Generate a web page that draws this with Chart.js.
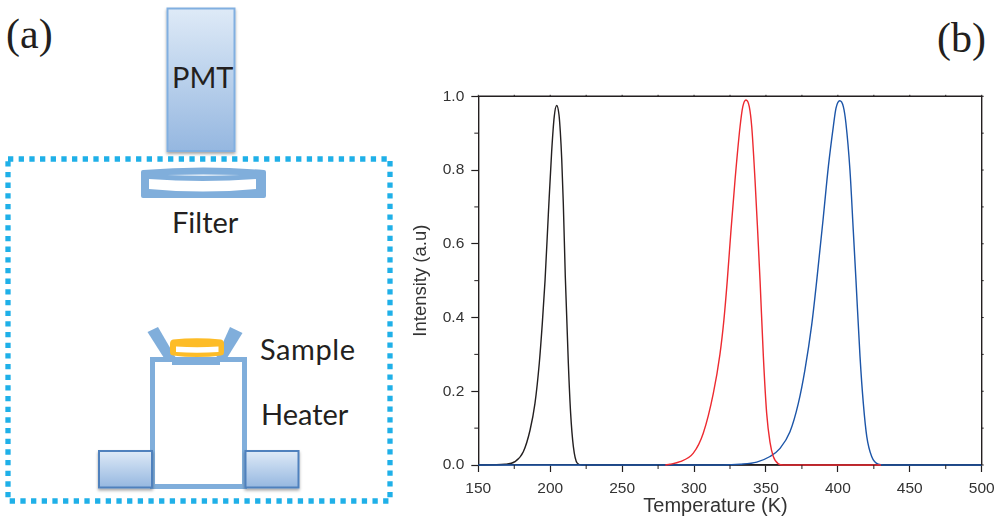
<!DOCTYPE html>
<html>
<head>
<meta charset="utf-8">
<title>PMT setup and glow curves</title>
<script src="https://cdn.jsdelivr.net/npm/chart.js@4"></script>
<style>
    html, body { margin: 0; padding: 0; background: #fff; overflow: hidden; }
    #page { position: relative; width: 999px; height: 519px; }
    #diagram, #chartBox { position: absolute; left: 0; top: 0; width: 999px; height: 519px; }
    #diagram text { fill: #231f20; font-family: Lato, "Open Sans", sans-serif; font-size: 29px; }
    #diagram text.panel { font-family: "Liberation Serif", serif; font-size: 42px; }
</style>
</head>
<body>
<div id="page">
    <svg id="diagram" width="999" height="519" viewBox="0 0 999 519">
        <defs>
            <linearGradient id="pmtFill" x1="0" y1="0" x2="0" y2="1">
                <stop offset="0" stop-color="#deeaf7"/>
                <stop offset="1" stop-color="#95b7e0"/>
            </linearGradient>
            <filter id="softShadow" x="-20%" y="-20%" width="140%" height="140%">
                <feDropShadow dx="0" dy="2" stdDeviation="1.6" flood-color="#000" flood-opacity="0.35"/>
            </filter>
        </defs>

        <text class="panel" x="6" y="48">(a)</text>
        <text class="panel" x="937" y="52">(b)</text>

        <rect x="8" y="159" width="382" height="342" fill="none" stroke="#1fb0e8" stroke-width="5.3" stroke-dasharray="5.3 5.37"/>

        <rect x="167.5" y="8.5" width="67" height="142.5" fill="url(#pmtFill)" stroke="#81afe0" stroke-width="2" filter="url(#softShadow)"/>
        <text x="172" y="88">PMT</text>

        <path d="M143 170 Q203 165 264 170 Q266 170 266 172 V196 Q266 198 264 198 H143 Q141 198 141 196 V172 Q141 170 143 170 Z" fill="#80aedb"/>
        <path d="M149 179 Q203 183 256 179 V189 Q203 194 149 189 Z" fill="#fff"/>
        <path d="M167 175 Q203 174 240 175 Q203 176.5 167 175 Z" fill="#fff"/>
        <text x="172" y="233">Filter</text>

        <polygon points="147.5,332 158,327 176,358 164,358" fill="#80aedb"/>
        <polygon points="230,327 242.5,333 227,358 216,358" fill="#80aedb"/>
        <rect x="152.5" y="359.5" width="92" height="127" fill="#fff" stroke="#80aedb" stroke-width="5"/>
        <rect x="172" y="357" width="48" height="8" fill="#80aedb"/>
        <path d="M173 339.5 Q197 337 221 339.5 Q224 340 224 344 V352 Q224 355 221 355.5 Q197 358.5 173 355.5 Q170 355 170 352 V344 Q170 340 173 339.5 Z" fill="#fdbc27"/>
        <path d="M176 346.5 Q197 348 218.5 346.5 V352 Q197 353.5 176 352 Z" fill="#fff"/>

        <rect x="99" y="451" width="53" height="36.5" fill="url(#pmtFill)" stroke="#4f81bd" stroke-width="2" filter="url(#softShadow)"/>
        <rect x="245.5" y="451" width="53" height="36.5" fill="url(#pmtFill)" stroke="#4f81bd" stroke-width="2" filter="url(#softShadow)"/>

        <text x="260" y="360" textLength="95">Sample</text>
        <text x="261" y="425">Heater</text>
    </svg>
    <div id="chartBox"><canvas id="glowChart" width="999" height="519"></canvas></div>
</div>

<script>
const xTicks = [150, 200, 250, 300, 350, 400, 450, 500];
const xMinorTicks = [175, 225, 275, 325, 375, 425, 475];
const yTicks = [0, 0.2, 0.4, 0.6, 0.8, 1];
const yMinorTicks = [0.1, 0.3, 0.5, 0.7, 0.9];

const blackTemp = [150, 168.6, 175.5, 181.3, 186, 189.4, 192.4, 194.5, 196.4, 198.7, 201, 202.8, 204.5, 206.1, 207, 208, 209.1, 210.5, 212.6, 214.2, 216.1, 218.8, 222, 500];
const blackValues = [0, 0.002, 0.009, 0.036, 0.095, 0.167, 0.276, 0.384, 0.5, 0.68, 0.85, 0.945, 0.975, 0.95, 0.905, 0.83, 0.71, 0.51, 0.276, 0.14, 0.05, 0.005, 0, 0];

const redTemp = [280, 283.3, 290.2, 299.5, 306.4, 313.4, 318, 320.8, 323.1, 325.7, 328.5, 332, 333.9, 336.1, 338.4, 340.1, 342.4, 344.2, 345.9, 348.2, 350.5, 352.8, 355.1, 358.6, 362, 430];
const redValues = [0, 0.002, 0.009, 0.032, 0.086, 0.194, 0.3, 0.395, 0.5, 0.637, 0.773, 0.918, 0.972, 0.99, 0.972, 0.918, 0.773, 0.637, 0.5, 0.294, 0.14, 0.062, 0.023, 0.003, 0, 0];

const blueTemp = [150, 320, 332, 343.6, 352.8, 359.8, 366.7, 372.5, 377.1, 381.8, 385.3, 389.9, 393.4, 396.9, 398.7, 401.3, 403.8, 405.6, 408.4, 410.7, 412.6, 415.4, 417.7, 420.1, 423.5, 428.1, 432, 500];
const blueValues = [0, 0, 0.002, 0.008, 0.023, 0.045, 0.09, 0.167, 0.258, 0.38, 0.5, 0.673, 0.81, 0.92, 0.968, 0.988, 0.972, 0.927, 0.8, 0.637, 0.5, 0.294, 0.167, 0.077, 0.023, 0.002, 0, 0];

const xTitle = "Temperature (K)";
const yTitle = "Intensity (a.u)";

const toPoints = (temps, values) => temps.map((t, i) => ({ x: t, y: values[i] }));

// minor ticks, the plain top and right frame, and the x title (sits left of centre in the original)
const frameTicks = {
    id: "frameTicks",
    afterDatasetsDraw(chart) {
        const { ctx, chartArea, scales } = chart;
        const { left, right, top, bottom } = chartArea;
        ctx.save();
        ctx.strokeStyle = "#231f20";
        ctx.lineWidth = 1.4;
        ctx.beginPath();
        ctx.moveTo(left, top);
        ctx.lineTo(right, top);
        ctx.lineTo(right, bottom);
        ctx.stroke();
        ctx.lineWidth = 1;
        ctx.beginPath();
        xMinorTicks.forEach(v => {
            const x = scales.x.getPixelForValue(v);
            ctx.moveTo(x, bottom);
            ctx.lineTo(x, bottom + 4);
        });
        yMinorTicks.forEach(v => {
            const y = scales.y.getPixelForValue(v);
            ctx.moveTo(left, y);
            ctx.lineTo(left - 4, y);
            ctx.moveTo(right, y);
            ctx.lineTo(right + 2, y);
        });
        yTicks.forEach(v => {
            const y = scales.y.getPixelForValue(v);
            ctx.moveTo(right, y);
            ctx.lineTo(right + 2, y);
        });
        xTicks.concat(xMinorTicks).forEach(v => {
            const x = scales.x.getPixelForValue(v);
            ctx.moveTo(x, top);
            ctx.lineTo(x, top - 1.5);
        });
        ctx.stroke();
        ctx.fillStyle = "#333";
        ctx.font = "20px 'Liberation Sans', Arial, sans-serif";
        ctx.textAlign = "center";
        ctx.textBaseline = "middle";
        ctx.fillText(xTitle, 715.5, 506);
        ctx.restore();
    }
};

const tickFont = { family: "'Liberation Sans', Arial, sans-serif", size: 15.5 };
const titleFont = { family: "'Liberation Sans', Arial, sans-serif", size: 18.5 };

new Chart(document.getElementById("glowChart"), {
    type: "line",
    data: {
        datasets: [
            { label: "Black", data: toPoints(blackTemp, blackValues), borderColor: "#231f20", order: 3 },
            { label: "Blue", data: toPoints(blueTemp, blueValues), borderColor: "#1c55a8", order: 2 },
            { label: "Red", data: toPoints(redTemp, redValues), borderColor: "#ed2a30", order: 1 }
        ]
    },
    options: {
        responsive: false,
        animation: false,
        layout: { padding: { left: 400, top: 96.3, right: 17.3, bottom: 0 } },
        elements: {
            point: { radius: 0 },
            line: { borderWidth: 1.4, cubicInterpolationMode: "monotone" }
        },
        datasets: { line: { clip: false } },
        plugins: {
            legend: { display: false },
            tooltip: { enabled: false }
        },
        scales: {
            x: {
                type: "linear",
                min: 150,
                max: 500,
                afterBuildTicks: scale => { scale.ticks = xTicks.map(value => ({ value })); },
                afterFit: scale => {
                    scale.height = 54;
                    scale.paddingLeft = 0;
                    scale.paddingRight = 0;
                },
                grid: { drawOnChartArea: false, tickLength: 7, tickColor: "#231f20", tickWidth: 1.2 },
                border: { color: "#231f20", width: 1.4 },
                ticks: { color: "#333", font: tickFont, padding: 7, maxRotation: 0, autoSkip: false }
            },
            y: {
                min: 0,
                max: 1,
                afterBuildTicks: scale => { scale.ticks = yTicks.map(value => ({ value })); },
                afterFit: scale => {
                    scale.width = 78.3;
                    scale.paddingTop = 0;
                    scale.paddingBottom = 0;
                },
                grid: { drawOnChartArea: false, tickLength: 7, tickColor: "#231f20", tickWidth: 1.2 },
                border: { color: "#231f20", width: 1.4 },
                ticks: { color: "#333", font: tickFont, padding: 7, autoSkip: false, callback: v => v.toFixed(1) },
                title: { display: true, text: yTitle, color: "#333", font: titleFont, padding: { top: 10, bottom: 0 } }
            }
        }
    },
    plugins: [frameTicks]
});
</script>
</body>
</html>
